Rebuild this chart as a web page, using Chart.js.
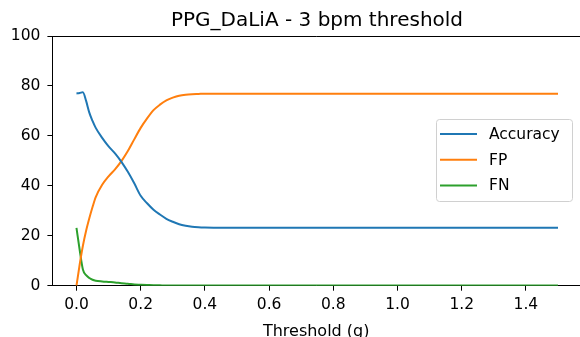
<!DOCTYPE html>
<html>
<head>
<meta charset="utf-8">
<script src="https://cdn.jsdelivr.net/npm/chart.js@4.4.0/dist/chart.umd.min.js"></script>
<style>
  html, body { margin: 0; padding: 0; background: #fff; }
  #wrap { width: 580px; height: 337px; position: relative; }
</style>
</head>
<body>
<div id="wrap"><canvas id="chart"></canvas></div>
<script>
const TITLE = "PPG_DaLiA - 3 bpm threshold";
const X_LABEL = "Threshold (g)";
const X_TICKS = [0, 0.2, 0.4, 0.6, 0.8, 1.0, 1.2, 1.4];
const Y_TICKS = [0, 20, 40, 60, 80, 100];

const THRESHOLDS = [0, 0.01, 0.02, 0.03, 0.04, 0.05, 0.06, 0.08, 0.10, 0.12,
  0.14, 0.16, 0.18, 0.20, 0.22, 0.24, 0.26, 0.28, 0.30, 0.32,
  0.34, 0.36, 0.38, 0.40, 0.45, 0.50, 0.60, 0.70, 0.80, 0.90,
  1.00, 1.10, 1.20, 1.30, 1.40, 1.50];
const ACCURACY = [77.0, 77.2, 77.5, 74.0, 69.3, 66.0, 63.2, 59.2, 55.8, 53.0,
  49.6, 45.6, 41.0, 36.0, 33.0, 30.4, 28.5, 26.8, 25.6, 24.6,
  24.0, 23.6, 23.4, 23.3, 23.2, 23.2, 23.2, 23.2, 23.2, 23.2,
  23.2, 23.2, 23.2, 23.2, 23.2, 23.2];
const FP = [0, 8.5, 16.0, 22.0, 27.0, 31.5, 35.5, 40.4, 43.8, 46.6,
  49.9, 53.9, 58.6, 63.2, 67.0, 70.3, 72.5, 74.2, 75.3, 76.1,
  76.5, 76.7, 76.8, 76.9, 76.9, 76.9, 76.9, 76.9, 76.9, 76.9,
  76.9, 76.9, 76.9, 76.9, 76.9, 76.9];
const FN = [23.2, 14.3, 6.5, 4.2, 3.1, 2.4, 2.0, 1.7, 1.5, 1.3,
  1.0, 0.8, 0.5, 0.4, 0.3, 0.2, 0.15, 0.1, 0.1, 0.1,
  0.1, 0.1, 0.1, 0.1, 0.1, 0.1, 0.1, 0.1, 0.1, 0.1,
  0.1, 0.1, 0.1, 0.1, 0.1, 0.1];

const SERIES = [
  { name: "Accuracy", values: ACCURACY, color: "#1f77b4" },
  { name: "FP", values: FP, color: "#ff7f0e" },
  { name: "FN", values: FN, color: "#2ca02c" },
];

const FONT = "'DejaVu Sans', sans-serif";

// title, top spine and the boxed legend, drawn like matplotlib does
const decorations = {
  id: "decorations",
  afterDraw(chart) {
    const { ctx, chartArea } = chart;
    ctx.save();
    ctx.strokeStyle = "#000";
    ctx.lineWidth = 1;
    ctx.beginPath();
    ctx.moveTo(chartArea.left, chartArea.top + 0.5);
    ctx.lineTo(chartArea.right, chartArea.top + 0.5);
    ctx.stroke();

    ctx.fillStyle = "#000";
    ctx.font = `20px ${FONT}`;
    ctx.textAlign = "center";
    ctx.textBaseline = "alphabetic";
    ctx.fillText(TITLE, 317, 26);

    const box = { x: 436.5, y: 119.5, w: 136, h: 82 };
    ctx.fillStyle = "rgba(255,255,255,0.8)";
    ctx.strokeStyle = "#d0d0d0";
    ctx.beginPath();
    ctx.roundRect(box.x, box.y, box.w, box.h, 3);
    ctx.fill();
    ctx.stroke();

    ctx.font = `15.5px ${FONT}`;
    ctx.textAlign = "left";
    ctx.textBaseline = "middle";
    SERIES.forEach((s, i) => {
      const y = 134 + i * 25.7;
      ctx.strokeStyle = s.color;
      ctx.lineWidth = 2;
      ctx.beginPath();
      ctx.moveTo(440, y);
      ctx.lineTo(477, y);
      ctx.stroke();
      ctx.fillStyle = "#000";
      ctx.fillText(s.name, 489, y + 1);
    });
    ctx.restore();
  },
};

new Chart(document.getElementById("chart"), {
  type: "line",
  data: {
    datasets: SERIES.map((s) => ({
      label: s.name,
      data: THRESHOLDS.map((x, i) => ({ x, y: s.values[i] })),
      borderColor: s.color,
      backgroundColor: s.color,
      borderWidth: 2,
      pointRadius: 0,
      cubicInterpolationMode: "monotone",
    })),
  },
  options: {
    responsive: true,
    maintainAspectRatio: false,
    animation: false,
    layout: { padding: { top: 36, right: 0, left: 0, bottom: 0 } },
    plugins: {
      legend: { display: false },
      tooltip: { enabled: false },
      title: { display: false },
    },
    scales: {
      x: {
        type: "linear",
        min: -0.075,
        max: 1.5685,
        afterFit(scale) {
          scale.height = 51.3;
        },
        afterBuildTicks(scale) {
          scale.ticks = X_TICKS.map((value) => ({ value }));
        },
        ticks: {
          color: "#000",
          font: { family: FONT, size: 15.5 },
          padding: 5,
          maxRotation: 0,
          callback: (v) => Number(v).toFixed(1),
        },
        grid: {
          drawOnChartArea: false,
          drawTicks: true,
          tickLength: 5,
          tickColor: "#000",
        },
        border: { color: "#000", width: 1 },
        title: {
          display: true,
          text: X_LABEL,
          color: "#000",
          font: { family: FONT, size: 16 },
          padding: { top: 4, bottom: -4 },
        },
      },
      y: {
        min: 0,
        max: 100,
        afterFit(scale) {
          scale.width = 52.4;
        },
        afterBuildTicks(scale) {
          scale.ticks = Y_TICKS.map((value) => ({ value }));
        },
        ticks: {
          color: "#000",
          font: { family: FONT, size: 15.5 },
          padding: 7,
        },
        grid: {
          drawOnChartArea: false,
          drawTicks: true,
          tickLength: 5,
          tickColor: "#000",
        },
        border: { color: "#000", width: 1 },
      },
    },
  },
  plugins: [decorations],
});
</script>
</body>
</html>
